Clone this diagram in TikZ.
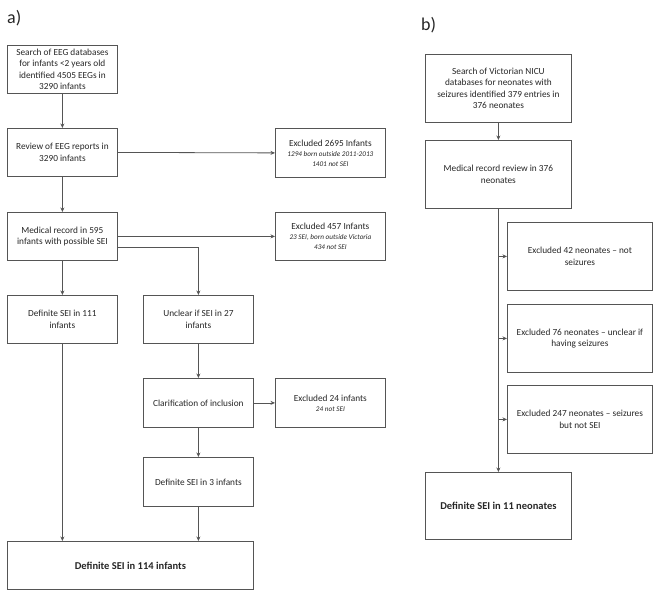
\documentclass[tikz,border=0pt]{standalone}
\usepackage{fontspec}
\setmainfont{Carlito}
\usetikzlibrary{arrows.meta}
\definecolor{boxline}{HTML}{555555}
\definecolor{txt}{HTML}{262626}
\tikzset{
  box/.style={draw=boxline, line width=0.8pt, rectangle, anchor=north west, inner sep=2pt,
    align=center, text=txt, font=\fontsize{9.3}{11.5}\selectfont},
  conn/.style={draw=boxline, line width=0.8pt, -{Stealth[length=4.5pt,width=4pt]}},
  panel/.style={anchor=west, text=txt, font=\fontsize{18}{20}\selectfont, inner sep=0pt}
}
\newcommand{\notetxt}[1]{{\itshape\fontsize{7.2}{9}\selectfont #1}}
\begin{document}
\begin{tikzpicture}[x=1pt,y=-1pt]
\useasboundingbox (0,0) rectangle (660,595);
% panel labels
\node[panel] (la) at (7,18) {a)};
\node[panel] (lb) at (421,25) {b)};
% panel a
\node[box, minimum width=110pt, minimum height=48pt] (a1) at (7,45)
  {Search of EEG databases\\for infants <2 years old\\identified 4505 EEGs in\\3290 infants};
\node[box, minimum width=110pt, minimum height=48pt] (a2) at (7,128)
  {Review of EEG reports in\\3290 infants};
\node[box, minimum width=110pt, minimum height=49pt] (x1) at (275,128)
  {Excluded 2695 Infants\\[-1.5pt]\notetxt{1294 born outside 2011-2013}\\[-1.5pt]\notetxt{1401 not SEI}};
\node[box, minimum width=110pt, minimum height=48pt] (a3) at (7,212)
  {Medical record in 595\\infants with possible SEI};
\node[box, minimum width=110pt, minimum height=48pt] (x2) at (275,212)
  {Excluded 457 Infants\\[-1.5pt]\notetxt{23 SEI, born outside Victoria}\\[-1.5pt]\notetxt{434 not SEI}};
\node[box, minimum width=110pt, minimum height=48pt] (d111) at (7,295)
  {Definite SEI in 111\\infants};
\node[box, minimum width=110pt, minimum height=48pt] (unc) at (143,295)
  {Unclear if SEI in 27\\infants};
\node[box, minimum width=110pt, minimum height=49pt] (clar) at (143,378)
  {Clarification of inclusion};
\node[box, minimum width=110pt, minimum height=49pt] (x3) at (275,378)
  {Excluded 24 infants\\[-1.5pt]\notetxt{24 not SEI}};
\node[box, minimum width=110pt, minimum height=49pt] (d3) at (143,457)
  {Definite SEI in 3 infants};
\node[box, minimum width=246pt, minimum height=48pt, font=\bfseries\fontsize{10.5}{12}\selectfont] (fa) at (7,541)
  {Definite SEI in 114 infants};
\draw[conn] (a1.south) -- (a2.north);
\draw[conn] (a2.east) -- (x1.west);
\draw[conn] (a2.south) -- (a3.north);
\draw[conn] (a3.east) -- (x2.west);
\draw[conn] ([yshift=-11pt]a3.east) -| (unc.north);
\draw[conn] (a3.south) -- (d111.north);
\draw[conn] (unc.south) -- (clar.north);
\draw[conn] (clar.east) -- (x3.west);
\draw[conn] (clar.south) -- (d3.north);
\draw[conn] (d111.south) -- (d111.south |- fa.north);
\draw[conn] (d3.south) -- (d3.south |- fa.north);
% panel b
\node[box, minimum width=146pt, minimum height=68pt] (b1) at (425,54)
  {Search of Victorian NICU\\databases for neonates with\\seizures identified 379 entries in\\376 neonates};
\node[box, minimum width=146pt, minimum height=68pt] (b2) at (425,140)
  {Medical record review in 376\\neonates};
\node[box, minimum width=145pt, minimum height=68pt] (e1) at (507,222)
  {Excluded 42 neonates -- not\\seizures};
\node[box, minimum width=145pt, minimum height=68pt] (e2) at (507,304)
  {Excluded 76 neonates -- unclear if\\having seizures};
\node[box, minimum width=145pt, minimum height=68pt] (e3) at (507,385)
  {Excluded 247 neonates -- seizures\\but not SEI};
\node[box, minimum width=146pt, minimum height=67pt, font=\bfseries\fontsize{10.5}{12}\selectfont] (fb) at (425,472)
  {Definite SEI in 11 neonates};
\draw[conn] (b1.south) -- (b2.north);
\draw[conn] (b2.south) -- (fb.north);
\draw[conn] (b2.south |- e1.west) -- (e1.west);
\draw[conn] (b2.south |- e2.west) -- (e2.west);
\draw[conn] (b2.south |- e3.west) -- (e3.west);
\end{tikzpicture}
\end{document}
